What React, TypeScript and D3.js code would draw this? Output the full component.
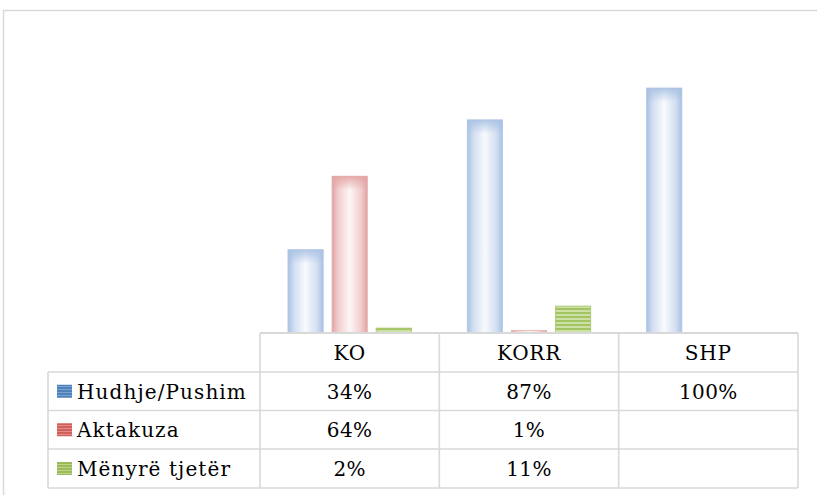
import React from "react";
import * as d3 from "d3";

const categories = ["KO", "KORR", "SHP"];
const seriesNames = ["Hudhje/Pushim", "Aktakuza", "Mënyrë tjetër"];
const hudhjeValues: (number | null)[] = [34, 87, 100];
const aktakuzaValues: (number | null)[] = [64, 1, null];
const menyreValues: (number | null)[] = [2, 11, null];
const seriesValues = [hudhjeValues, aktakuzaValues, menyreValues];

const W = 817;
const H = 495;
const plotLeft = 260;
const plotRight = 798;
const baseY = 333;
const rowTops = [333, 372, 410.5, 449, 488];
const legendLeft = 48;
const grid = "#d9d9d9";
const font = "'DejaVu Serif', serif";

export default function App() {
  const x0 = d3.scaleBand<string>().domain(categories).range([plotLeft, plotRight]);
  const x1 = d3
    .scaleBand<string>()
    .domain(seriesNames)
    .range([0, x0.bandwidth()])
    .paddingInner(0.2)
    .paddingOuter(0.634);
  const y = d3.scaleLinear().domain([0, 100]).range([baseY, 88]);
  const fmt = (v: number | null) => (v == null ? "" : `${v}%`);

  const fills = ["url(#gBlue)", "url(#gRed)", "url(#pGreen)"];
  const strokes = ["#b3c8e6", "#e6b0b0", "#a9c471"];
  const tops = ["url(#tBlue)", "url(#tRed)", null];
  const swatch = ["url(#sBlue)", "url(#sRed)", "url(#sGreen)"];

  return (
    <svg width={W} height={H} style={{ position: "absolute", left: 0, top: 0, display: "block" }}>
      <defs>
        <linearGradient id="gBlue" x1="0" x2="1" y1="0" y2="0">
          <stop offset="0" stopColor="#a9c1e3" />
          <stop offset="0.18" stopColor="#d3dff1" />
          <stop offset="0.5" stopColor="#f8fafd" />
          <stop offset="0.82" stopColor="#d3dff1" />
          <stop offset="1" stopColor="#a9c1e3" />
        </linearGradient>
        <linearGradient id="gRed" x1="0" x2="1" y1="0" y2="0">
          <stop offset="0" stopColor="#e3a3a3" />
          <stop offset="0.18" stopColor="#f1cece" />
          <stop offset="0.5" stopColor="#fdf6f6" />
          <stop offset="0.82" stopColor="#f1cece" />
          <stop offset="1" stopColor="#e3a3a3" />
        </linearGradient>
        <linearGradient id="tBlue" x1="0" x2="0" y1="0" y2="1">
          <stop offset="0" stopColor="#a9c1e3" stopOpacity="0.9" />
          <stop offset="1" stopColor="#a9c1e3" stopOpacity="0" />
        </linearGradient>
        <linearGradient id="tRed" x1="0" x2="0" y1="0" y2="1">
          <stop offset="0" stopColor="#e3a3a3" stopOpacity="0.9" />
          <stop offset="1" stopColor="#e3a3a3" stopOpacity="0" />
        </linearGradient>
        <pattern id="pGreen" patternUnits="userSpaceOnUse" width="4" height="4">
          <rect width="4" height="4" fill="#a3c462" />
          <rect y="2" width="4" height="2" fill="#cde0a6" />
        </pattern>
        <pattern id="sBlue" patternUnits="userSpaceOnUse" width="4" height="3">
          <rect width="4" height="3" fill="#4f81bd" />
          <rect y="2" width="4" height="1" fill="#7ea2d0" />
        </pattern>
        <pattern id="sRed" patternUnits="userSpaceOnUse" width="4" height="3">
          <rect width="4" height="3" fill="#d35f5c" />
          <rect y="2" width="4" height="1" fill="#e08c8a" />
        </pattern>
        <pattern id="sGreen" patternUnits="userSpaceOnUse" width="4" height="3">
          <rect width="4" height="3" fill="#9bbb59" />
          <rect y="2" width="4" height="1" fill="#bdd38f" />
        </pattern>
      </defs>

      <rect x={0} y={0} width={W} height={H} fill="#fff" />
      {/* outer chart border */}
      <rect x={3.5} y={10.5} width={900} height={600} fill="none" stroke={grid} strokeWidth={1.5} />

      {/* bars */}
      {categories.map((c, ci) =>
        seriesNames.map((s, si) => {
          const v = seriesValues[si][ci];
          if (v == null) return null;
          const bx = (x0(c) ?? 0) + (x1(s) ?? 0);
          const by = y(v);
          const bh = baseY - by;
          const bw = x1.bandwidth();
          const t = tops[si];
          return (
            <g key={`${c}-${s}`}>
              <rect x={bx} y={by} width={bw} height={bh} fill={fills[si]} stroke={strokes[si]} strokeWidth={0.8} />
              {t && bh > 6 && <rect x={bx} y={by} width={bw} height={Math.min(14, bh)} fill={t} />}
            </g>
          );
        })
      )}

      {/* data table grid */}
      <g stroke={grid} strokeWidth={1.6} fill="none">
        <line x1={plotLeft} x2={plotRight} y1={baseY} y2={baseY} strokeWidth={2} />
        {rowTops.slice(1).map((ry) => (
          <line key={ry} x1={legendLeft} x2={plotRight} y1={ry} y2={ry} />
        ))}
        <line x1={legendLeft} x2={legendLeft} y1={rowTops[1]} y2={rowTops[4]} />
        {categories.map((c) => (
          <line key={c} x1={x0(c)} x2={x0(c)} y1={baseY} y2={rowTops[4]} />
        ))}
        <line x1={plotRight} x2={plotRight} y1={baseY} y2={rowTops[4]} />
      </g>

      {/* header */}
      {categories.map((c) => (
        <text
          key={c}
          x={(x0(c) ?? 0) + x0.bandwidth() / 2}
          y={(rowTops[0] + rowTops[1]) / 2 + 7.5}
          textAnchor="middle"
          fontFamily={font}
          fontSize={20}
          letterSpacing={0.8}
          fill="#000"
        >
          {c}
        </text>
      ))}

      {/* rows */}
      {seriesNames.map((s, si) => {
        const cy = (rowTops[si + 1] + rowTops[si + 2]) / 2;
        return (
          <g key={s}>
            <rect x={57} y={cy - 6.5} width={15} height={13} fill={swatch[si]} />
            <text x={77} y={cy + 7.5} fontFamily={font} fontSize={20} letterSpacing={1.1} fill="#000">
              {s}
            </text>
            {categories.map((c, ci) => (
              <text
                key={c}
                x={(x0(c) ?? 0) + x0.bandwidth() / 2}
                y={cy + 7.5}
                textAnchor="middle"
                fontFamily={font}
                fontSize={20}
                letterSpacing={0.4}
                fill="#000"
              >
                {fmt(seriesValues[si][ci])}
              </text>
            ))}
          </g>
        );
      })}
    </svg>
  );
}
